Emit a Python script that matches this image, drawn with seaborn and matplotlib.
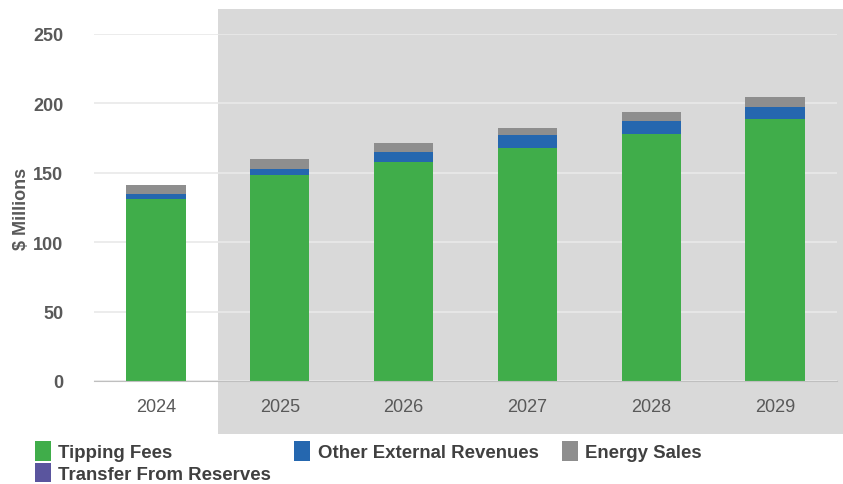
import matplotlib
matplotlib.use("Agg")
import matplotlib.pyplot as plt
from matplotlib.patches import Rectangle, Patch
import seaborn as sns
import numpy as np
import pandas as pd

years = ["2024", "2025", "2026", "2027", "2028", "2029"]
tipping_fees = [131, 148.5, 158, 168, 178, 189]
other_external = [4, 4.5, 7, 9, 9.5, 8.5]
energy_sales = [6, 7, 6.5, 5, 6.5, 7]
transfer_reserves = [0, 0, 0, 0, 0, 0]

colors = {"Tipping Fees": "#40ad4a", "Other External Revenues": "#2567af",
          "Energy Sales": "#8e8e8e", "Transfer From Reserves": "#5a559e"}

df = pd.DataFrame({"Year": years, "Tipping Fees": tipping_fees,
                   "Other External Revenues": other_external,
                   "Energy Sales": energy_sales,
                   "Transfer From Reserves": transfer_reserves})

sns.set_style("white")
plt.rcParams["font.family"] = ["Liberation Sans", "DejaVu Sans"]

fig = plt.figure(figsize=(8.43, 4.85), dpi=100)
ax = fig.add_axes([94 / 843, 1 - 382 / 485, 743 / 843, 347 / 485])
ax.set_zorder(1)
ax.patch.set_alpha(0)

# shaded forecast region behind the chart
fig.patches.append(Rectangle((218 / 843, 1 - 435 / 485), 625 / 843, 425 / 485,
                             transform=fig.transFigure, facecolor="#d9d9d9",
                             edgecolor="none", zorder=0))

bottom = np.zeros(len(years))
for s in ["Tipping Fees", "Other External Revenues", "Energy Sales", "Transfer From Reserves"]:
    sns.barplot(data=df, x="Year", y=s, color=colors[s], bottom=bottom,
                width=0.48, ax=ax, saturation=1, zorder=3, linewidth=0)
    bottom = bottom + df[s].values

ax.set_ylim(0, 250)
ax.set_xlim(-0.5, 5.5)
ax.set_yticks([0, 50, 100, 150, 200, 250])
ax.yaxis.grid(True, color="#e9e9e9", linewidth=1.2, zorder=0)
ax.set_axisbelow(True)
for sp in ["top", "right", "left"]:
    ax.spines[sp].set_visible(False)
ax.spines["bottom"].set_color("#bfbfbf")
ax.spines["bottom"].set_zorder(4)
ax.tick_params(axis="y", length=0, pad=22, labelsize=13, labelcolor="#595959")
ax.tick_params(axis="x", length=0, pad=12, labelsize=13, labelcolor="#595959")
for t in ax.get_yticklabels():
    t.set_fontweight("bold")
ax.set_xlabel("")
ax.set_ylabel("$ Millions", fontsize=13, fontweight="bold", color="#595959", labelpad=2)

order = ["Tipping Fees", "Transfer From Reserves", "Other External Revenues", "Energy Sales"]
handles = [Patch(facecolor=colors[k], edgecolor="none") for k in order]
leg = fig.legend(handles, order, loc="upper left", bbox_to_anchor=(35 / 843, 1 - 442 / 485),
                 ncol=3, frameon=False, handlelength=0.85, handleheight=1.25,
                 handletextpad=0.4, columnspacing=1.25, labelspacing=0.08,
                 borderaxespad=0, borderpad=0,
                 prop={"weight": "bold", "size": 13.4})
for t in leg.get_texts():
    t.set_color("#404040")

fig.savefig("out.png", dpi=100)
